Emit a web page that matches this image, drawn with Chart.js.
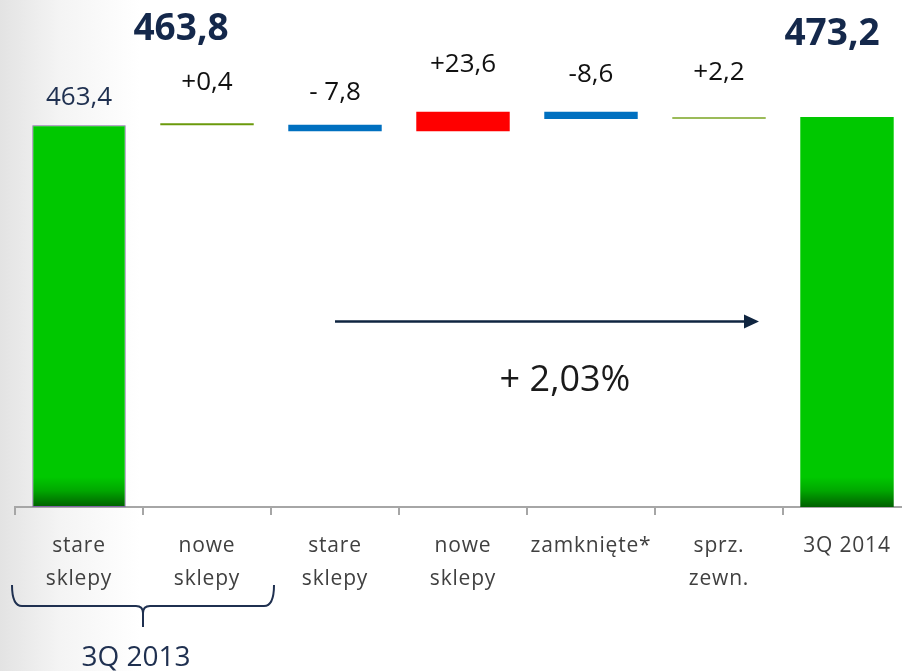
<!DOCTYPE html>
<html>
<head>
<meta charset="utf-8">
<script src="https://cdn.jsdelivr.net/npm/chart.js@4.4.1/dist/chart.umd.min.js"></script>
<style>
  html, body {
    margin: 0; padding: 0; width: 902px; height: 671px; overflow: hidden;
    background: linear-gradient(to right, #e3e3e3 0px, #f4f4f4 60px, #ffffff 140px);
  }
  #wrap { position: absolute; left: 0; top: 0; width: 920px; height: 671px; }
</style>
</head>
<body>
<div id="wrap"><canvas id="chart"></canvas></div>
<script>
/*
 * Waterfall: 3Q 2013 -> 3Q 2014, drawn as floating bars.
 */

// ── Data ──
var categories = [["stare", "sklepy"], ["nowe", "sklepy"], ["stare", "sklepy"], ["nowe", "sklepy"], "zamknięte*", ["sprz.", "zewn."], "3Q 2014"];
var startTotal = 463.4;
var changes = [0.4, -7.8, 23.6, -8.6, 2.2];
var midTotal = 463.8;
var endTotal = 473.2;
var valueLabels = ["463,4", "+0,4", "- 7,8", "+23,6", "-8,6", "+2,2"];
var totalLabels = ["463,8", "473,2"];
var growthLabel = "+ 2,03%";
var groupLabel = "3Q 2013";

// ── Styles ──
var stepColors = ["#6b9a0c", "#0070c0", "#ff0000", "#0070c0", "#9bbb59"];
var labelLift = [28, 41, 32, 47, 37, 44];   // px above each bar top
var NAVY = "#14284b";

// floating bars [from, to]
var floats = [[0, startTotal]];
var running = startTotal;
changes.forEach(function (c) {
    floats.push([running, running + c]);
    running += c;
});
floats.push([0, endTotal]);

function greenFill(ctx) {
    var area = ctx.chart.chartArea;
    if (!area) return "#00c800";
    var g = ctx.chart.ctx.createLinearGradient(0, area.bottom - 30, 0, area.bottom);
    g.addColorStop(0, "#00c800");
    g.addColorStop(0.45, "#00a800");
    g.addColorStop(1, "#006000");
    return g;
}

function barColor(ctx) {
    var i = ctx.dataIndex;
    if (i === 0 || i === floats.length - 1) return greenFill(ctx);
    return stepColors[i - 1];
}

// ── Tick label letter spacing ──
var spacingPlugin = {
    id: "spacing",
    beforeDraw: function (chart) { chart.ctx.letterSpacing = "0.8px"; },
    beforeDatasetsDraw: function (chart) { chart.ctx.letterSpacing = "0px"; }
};

// ── Labels, arrow, brace ──
var annotatePlugin = {
    id: "annotate",
    afterDatasetsDraw: function (chart) {
        var ctx = chart.ctx;
        var xs = chart.scales.x, ys = chart.scales.y;
        var meta = chart.getDatasetMeta(0);
        var bottom = chart.chartArea.bottom;
        ctx.save();
        ctx.textAlign = "center";
        ctx.textBaseline = "middle";

        // value labels over each bar
        ctx.font = "26px 'Open Sans'";
        valueLabels.forEach(function (t, i) {
            var bar = meta.data[i];
            var top = Math.min(bar.y, bar.base);
            ctx.fillStyle = i === 0 ? "#1f3050" : "#111111";
            ctx.fillText(t, bar.x, top - labelLift[i]);
        });

        // subtotals
        ctx.font = "bold 37px 'Open Sans'";
        ctx.fillStyle = NAVY;
        ctx.fillText(totalLabels[0], xs.getPixelForValue(1) - 26, ys.getPixelForValue(midTotal) - 95);
        ctx.fillText(totalLabels[1], xs.getPixelForValue(6) - 15, ys.getPixelForValue(endTotal) - 83);

        // arrow
        var ay = ys.getPixelForValue(225);
        var ax0 = xs.getPixelForValue(2);
        var ax1 = xs.getPixelForValue(6) - 88;
        ctx.strokeStyle = "#0f2540";
        ctx.fillStyle = "#0f2540";
        ctx.lineWidth = 2.5;
        ctx.beginPath();
        ctx.moveTo(ax0, ay);
        ctx.lineTo(ax1 - 12, ay);
        ctx.stroke();
        ctx.beginPath();
        ctx.moveTo(ax1, ay);
        ctx.lineTo(ax1 - 15, ay - 7);
        ctx.lineTo(ax1 - 15, ay + 7);
        ctx.closePath();
        ctx.fill();

        ctx.font = "36px 'Open Sans'";
        ctx.fillStyle = "#1a1a1a";
        ctx.fillText(growthLabel, (ax0 + ax1) / 2 + 18, ay + 59);

        // brace under the first two categories
        var half = (xs.getPixelForValue(1) - xs.getPixelForValue(0)) / 2;
        var L = xs.getPixelForValue(0) - half - 3;
        var R = xs.getPixelForValue(1) + half + 3;
        var M = xs.getPixelForValue(0) + half;
        var yTop = bottom + 78, yMid = bottom + 99, yTip = bottom + 120;
        ctx.strokeStyle = "#1f3050";
        ctx.lineWidth = 2;
        ctx.beginPath();
        ctx.moveTo(L, yTop);
        ctx.quadraticCurveTo(L, yMid, L + 10, yMid);
        ctx.lineTo(M - 7, yMid);
        ctx.quadraticCurveTo(M, yMid, M, yMid + 7);
        ctx.lineTo(M, yTip);
        ctx.moveTo(M, yMid + 7);
        ctx.quadraticCurveTo(M, yMid, M + 7, yMid);
        ctx.lineTo(R - 10, yMid);
        ctx.quadraticCurveTo(R, yMid, R, yTop);
        ctx.stroke();

        ctx.font = "28px 'Open Sans'";
        ctx.fillStyle = "#1f3050";
        ctx.fillText(groupLabel, M - 7, bottom + 151);
        ctx.restore();
    }
};

Chart.defaults.font.family = "'Open Sans', sans-serif";

new Chart(document.getElementById("chart"), {
    type: "bar",
    data: {
        labels: categories,
        datasets: [{
            data: floats,
            backgroundColor: barColor,
            borderColor: function (ctx) { return ctx.dataIndex === 0 ? "#8064a2" : "rgba(0,0,0,0)"; },
            borderWidth: function (ctx) { return ctx.dataIndex === 0 ? 1 : 0; },
            borderSkipped: false,
            barPercentage: 0.73,
            categoryPercentage: 1,
            minBarLength: 2
        }]
    },
    options: {
        responsive: true,
        maintainAspectRatio: false,
        animation: false,
        layout: { padding: { top: 95, left: 15, right: 9, bottom: 0 } },
        plugins: { legend: { display: false }, tooltip: { enabled: false } },
        scales: {
            x: {
                afterFit: function (scale) { scale.height = 164; },
                grid: {
                    drawOnChartArea: false,
                    drawTicks: true,
                    tickLength: 8,
                    color: "#a6a6a6",
                    lineWidth: 2
                },
                border: { display: true, color: "#a6a6a6", width: 2 },
                ticks: {
                    color: "#404040",
                    padding: 15,
                    maxRotation: 0,
                    autoSkip: false,
                    font: { size: 21, lineHeight: 1.55 }
                }
            },
            y: {
                display: false,
                min: 0,
                max: 500
            }
        }
    },
    plugins: [spacingPlugin, annotatePlugin]
});
</script>
</body>
</html>
